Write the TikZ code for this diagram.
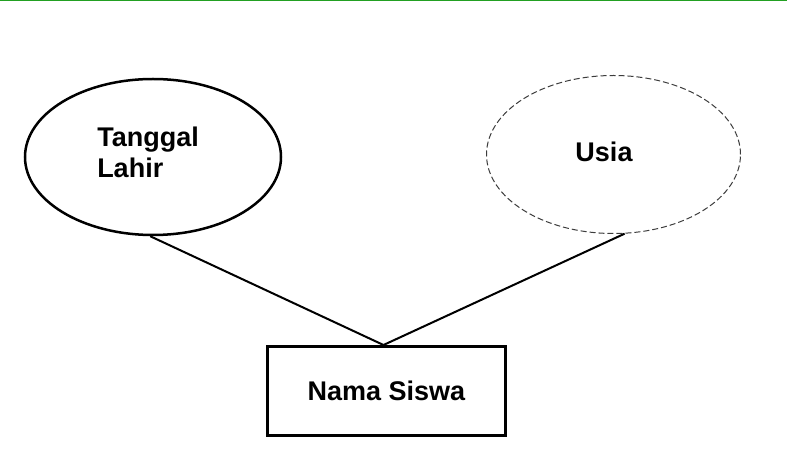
\documentclass[tikz,border=0pt]{standalone}
\usepackage{fontspec}
\setmainfont{Liberation Sans}
\usetikzlibrary{shapes.geometric}
\definecolor{topgreen}{RGB}{34,160,34}
\definecolor{dashgray}{RGB}{60,60,60}
\tikzset{
  attr/.style={ellipse, draw=black, line width=2.5pt, fill=white, inner sep=0pt},
  derived/.style={ellipse, draw=dashgray, line width=1pt, dash pattern=on 6pt off 3pt, inner sep=0pt},
  entity/.style={rectangle, draw=black, line width=3pt, inner sep=0pt},
  lbl/.style={inner sep=0pt, font=\fontsize{27}{31}\selectfont\bfseries},
  link/.style={draw=black, line width=2pt}
}
\begin{document}
\begin{tikzpicture}[x=1pt,y=-1pt]
\useasboundingbox (0,0) rectangle (787,470);
\fill[white] (0,0) rectangle (787,470);
\draw[topgreen, line width=1.5pt] (0,0.75) -- (787,0.75);
\node[attr, minimum width=256pt, minimum height=156pt] (L) at (153,157) {};
\node[derived, minimum width=254pt, minimum height=158pt] (R) at (613.5,154.5) {};
\node[entity, minimum width=238pt, minimum height=89pt] (N) at (386.5,391) {};
\node[lbl, align=left] (tl) at (148,152) {Tanggal\\Lahir};
\node[lbl] (us) at (604,152) {Usia};
\node[lbl] (ns) at (386.5,391) {Nama Siswa};
\coordinate (top) at ([xshift=-3pt]N.north);
\draw[link] (L.-92) -- (top);
\draw[link] (R.-82) -- (top);
\end{tikzpicture}
\end{document}
